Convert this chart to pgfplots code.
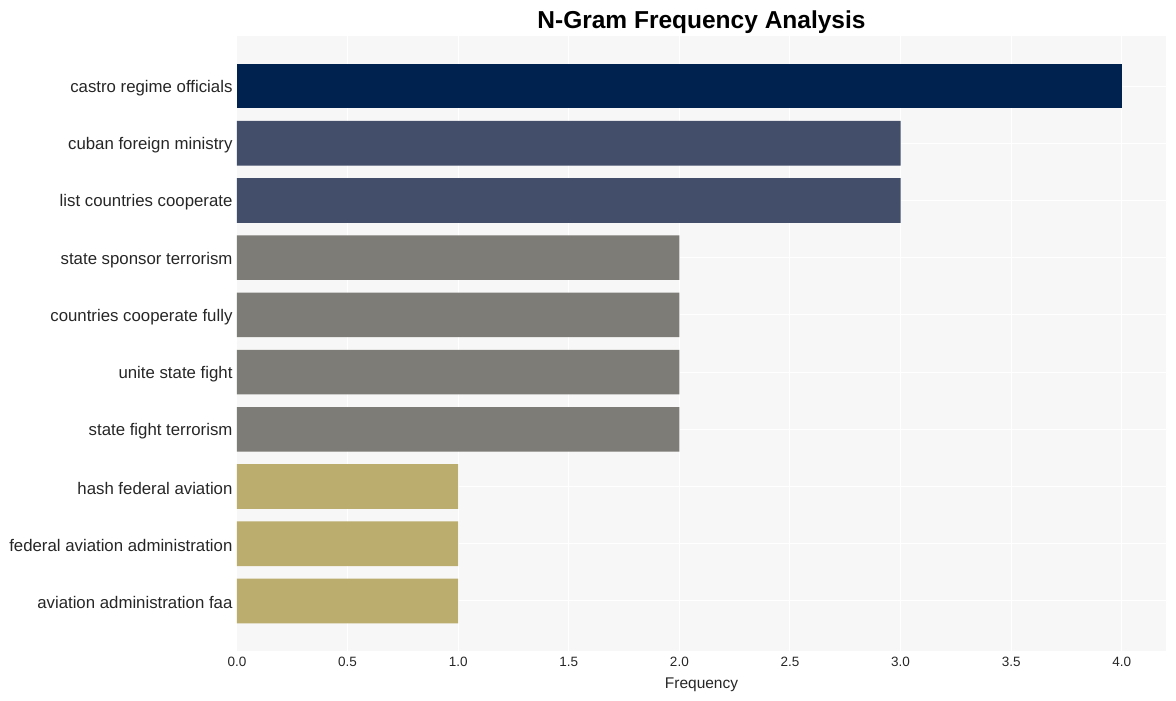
\documentclass[border=0pt]{standalone}
\usepackage{fontspec}
\setmainfont{Liberation Sans}
\usepackage{pgfplots}
\pgfplotsset{compat=1.18}
\definecolor{bgc}{HTML}{F7F7F7}
\definecolor{cA}{HTML}{00224E}
\definecolor{cB}{HTML}{434E6B}
\definecolor{cC}{HTML}{7D7C77}
\definecolor{cD}{HTML}{BBAD6E}
\definecolor{txt}{HTML}{262626}
\begin{document}
\begin{tikzpicture}
\path[use as bounding box] (-237pt,-50pt) rectangle (939pt,651pt);
\begin{axis}[
  scale only axis, width=929pt, height=615pt,
  xmin=0, xmax=4.2, ymin=-0.875, ymax=9.875,
  y dir=reverse,
  xbar, bar width=0.78, bar shift=0pt,
  axis background/.style={fill=bgc},
  axis line style={draw=none},
  major tick length=0pt,
  grid=major, grid style={white, line width=1pt},
  xtick={0,0.5,...,4.0},
  xticklabel style={/pgf/number format/fixed, /pgf/number format/fixed zerofill, /pgf/number format/precision=1, font=\fontsize{13.5}{15}\selectfont, text=txt, yshift=-3pt},
  /pgf/number format/assume math mode=true,
  ytick={0,...,9},
  yticklabels={castro regime officials, cuban foreign ministry, list countries cooperate, state sponsor terrorism, countries cooperate fully, unite state fight, state fight terrorism, hash federal aviation, federal aviation administration, aviation administration faa},
  yticklabel style={font=\fontsize{16.8}{18}\selectfont, text=txt, xshift=-1pt, yshift=-2pt},
  xlabel={Frequency}, xlabel style={font=\fontsize{15.5}{17}\selectfont, text=txt, yshift=-4pt},
  title={N-Gram Frequency Analysis}, title style={font=\fontsize{24.5}{28}\selectfont\bfseries, text=black, yshift=-7pt},
]
\addplot[fill=cA, draw=none] coordinates {(4,0)};
\addplot[fill=cB, draw=none] coordinates {(3,1) (3,2)};
\addplot[fill=cC, draw=none] coordinates {(2,3) (2,4) (2,5) (2,6)};
\addplot[fill=cD, draw=none] coordinates {(1,7) (1,8) (1,9)};
\end{axis}
\end{tikzpicture}
\end{document}
